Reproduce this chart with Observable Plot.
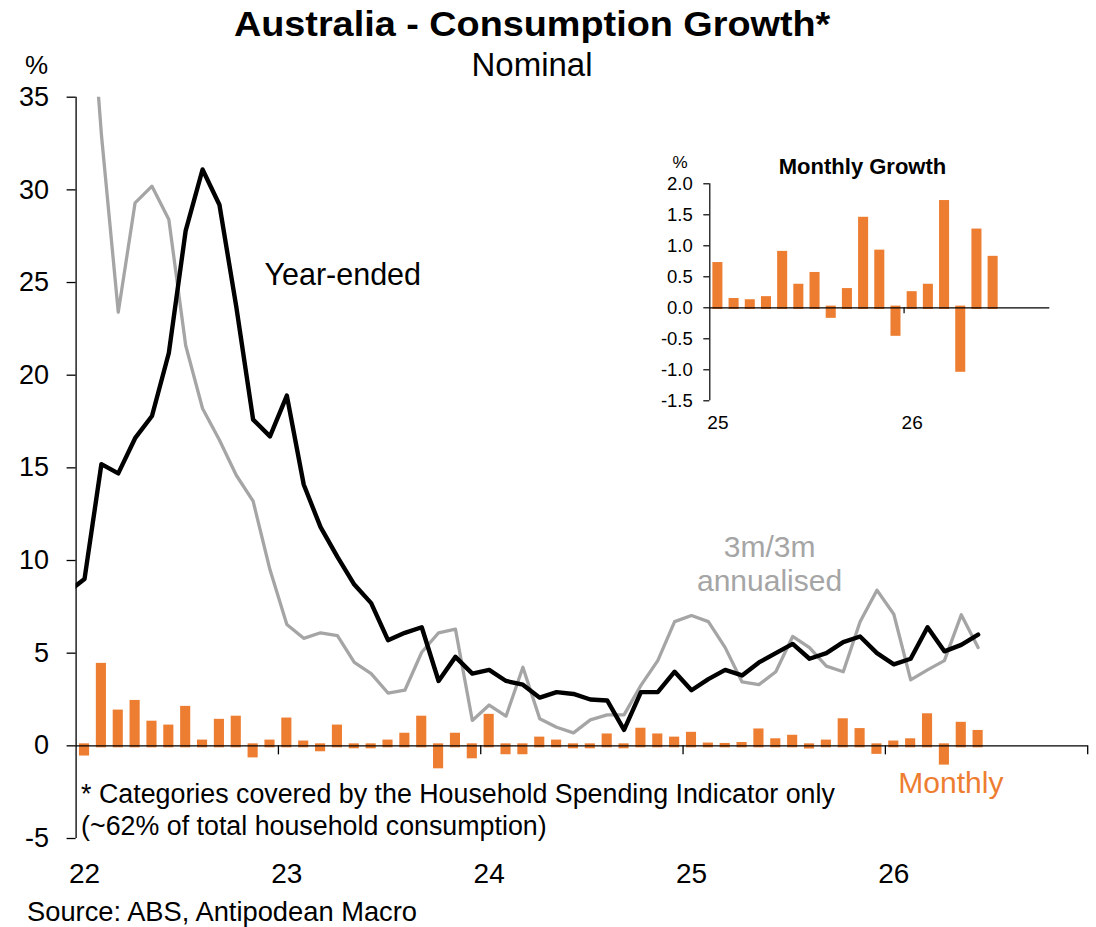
<!DOCTYPE html>
<html>
<head>
<meta charset="utf-8">
<script src="https://cdn.jsdelivr.net/npm/d3@7"></script>
<script src="https://cdn.jsdelivr.net/npm/@observablehq/plot@0.6"></script>
<style>
  body { margin: 0; background: #fff; }
  #wrap { position: relative; width: 1096px; height: 927px; overflow: hidden;
          font-family: "Liberation Sans", Arial, Helvetica, sans-serif; color: #000; }
  #main { position: absolute; left: 0; top: 0; }
  #inset { position: absolute; left: 640px; top: 140px; }
  .t { position: absolute; left: 0; width: 1064px; text-align: center; white-space: nowrap; }
  .t span { display: inline-block; transform-origin: 50% 50%; }
  #title { top: 6.4px; font-size: 35px; line-height: 35px; font-weight: bold; }
  #title span { transform: scaleX(1.08); }
  #subtitle { top: 48px; font-size: 33px; line-height: 33px; }
  #source { position: absolute; left: 27px; top: 897.5px; font-size: 27.3px; line-height: 27px; white-space: nowrap; }
</style>
</head>
<body>
<div id="wrap">
  <div id="main"></div>
  <div id="inset"></div>
  <div id="title" class="t"><span>Australia - Consumption Growth*</span></div>
  <div id="subtitle" class="t"><span>Nominal</span></div>
  <div id="source">Source: ABS, Antipodean Macro</div>
</div>
<script>
// ---------------- data ----------------
const months = [
  "Dec-21",
  "Jan-22","Feb-22","Mar-22","Apr-22","May-22","Jun-22","Jul-22","Aug-22","Sep-22","Oct-22","Nov-22","Dec-22",
  "Jan-23","Feb-23","Mar-23","Apr-23","May-23","Jun-23","Jul-23","Aug-23","Sep-23","Oct-23","Nov-23","Dec-23",
  "Jan-24","Feb-24","Mar-24","Apr-24","May-24","Jun-24","Jul-24","Aug-24","Sep-24","Oct-24","Nov-24","Dec-24",
  "Jan-25","Feb-25","Mar-25","Apr-25","May-25","Jun-25","Jul-25","Aug-25","Sep-25","Oct-25","Nov-25","Dec-25",
  "Jan-26","Feb-26","Mar-26","Apr-26","May-26","Jun-26"
];
// Year-ended growth, %
const yearEnded = [
  8.3,
  9.0, 15.2, 14.7, 16.6, 17.8, 21.2, 27.8, 31.1, 29.2, 23.7, 17.6, 16.7,
  18.9, 14.1, 11.8, 10.2, 8.7, 7.7, 5.7, 6.1, 6.4, 3.5, 4.8, 3.9,
  4.1, 3.5, 3.3, 2.6, 2.9, 2.8, 2.5, 2.45, 0.86, 2.9, 2.9, 4.0,
  3.0, 3.6, 4.1, 3.8, 4.5, 5.0, 5.5, 4.7, 5.0, 5.6, 5.9, 5.0,
  4.4, 4.7, 6.4, 5.1, 5.45, 6.0
];
// 3m/3m annualised growth, %
const threeMonthAnn = [
  null,
  45.0, 33.0, 23.4, 29.3, 30.2, 28.4, 21.6, 18.2, 16.5, 14.6, 13.2, 9.5,
  6.55, 5.8, 6.1, 5.95, 4.5, 3.9, 2.85, 3.0, 5.05, 6.1, 6.3, 1.37,
  2.2, 1.6, 4.24, 1.46, 1.0, 0.7, 1.4, 1.67, 1.67, 3.26, 4.6, 6.7,
  7.03, 6.7, 5.3, 3.45, 3.3, 4.0, 5.9, 5.3, 4.3, 4.0, 6.7, 8.4,
  7.1, 3.56, 4.1, 4.6, 7.07, 5.3
];
// Monthly growth, %
const monthly = [
  null,
  -0.55, 4.45, 1.93, 2.45, 1.33, 1.12, 2.13, 0.31, 1.43, 1.6, -0.65, 0.31,
  1.5, 0.26, -0.32, 1.12, -0.16, -0.16, 0.31, 0.68, 1.6, -1.24, 0.68, -0.7,
  1.7, -0.48, -0.48, 0.47, 0.31, -0.16, -0.16, 0.64, -0.16, 0.95, 0.64, 0.47,
  0.73, 0.15, 0.13, 0.18, 0.91, 0.38, 0.57, -0.17, 0.31, 1.46, 0.93, -0.46,
  0.26, 0.38, 1.73, -1.04, 1.27, 0.83
];
const yearLabels = ["22", "23", "24", "25", "26"];
const yTicks = [-5, 0, 5, 10, 15, 20, 25, 30, 35];
const insetYTicks = [-1.5, -1.0, -0.5, 0.0, 0.5, 1.0, 1.5, 2.0];
const insetYearLabels = ["25", "26"];
const insetStart = "Jan-25";
const insetMonths = 21; // Jan-25 .. Sep-26 on the inset axis
const mainMonths = 60;  // Jan-22 .. Dec-26 on the main axis

// ---------------- styling ----------------
const FONT = '"Liberation Sans", Arial, Helvetica, sans-serif';
const ORANGE = "#ED7D31";
const GRAY = "#A5A5A5";

// month index i: 0 = Jan-22
const rows = months.map((m, k) => ({
  month: m, i: k - 1,
  yearEnded: yearEnded[k], threeM: threeMonthAnn[k], monthly: monthly[k]
}));
const janRows = rows.filter(d => d.month.startsWith("Jan"));
const yearTicks = janRows.map((d, j) => ({i: d.i, label: yearLabels[j]}));
const boundaries = janRows.filter(d => d.i > 0).map(d => d.i).concat([mainMonths]);
const bars = rows.filter(d => d.monthly != null);

const main = Plot.plot({
  width: 1096, height: 898,
  marginLeft: 75.6, marginRight: 8.8, marginTop: 96.7, marginBottom: 60,
  style: {fontFamily: FONT, background: "none", color: "#000", overflow: "visible"},
  x: {type: "linear", domain: [0, mainMonths], axis: null},
  y: {type: "linear", domain: [-5, 35], axis: null},
  marks: [
    Plot.rectY(bars.filter(d => d.monthly >= 0), {x1: d => d.i + 0.2, x2: d => d.i + 0.8, y1: 0, y2: "monthly", fill: ORANGE, insetBottom: -2}),
    Plot.rectY(bars.filter(d => d.monthly < 0), {x1: d => d.i + 0.2, x2: d => d.i + 0.8, y1: 0, y2: "monthly", fill: ORANGE, insetTop: -2}),
    Plot.line(rows.filter(d => d.threeM != null), {x: d => d.i + 0.5, y: "threeM", stroke: GRAY, strokeWidth: 3.3, strokeLinejoin: "round", clip: true}),
    Plot.line(rows, {x: d => d.i + 0.5, y: "yearEnded", stroke: "#000", strokeWidth: 4.4, strokeLinejoin: "round", clip: true}),
    Plot.ruleY([0], {stroke: "#000", strokeWidth: 1.3}),
    Plot.ruleX([0], {stroke: "#000", strokeWidth: 1.3}),
    Plot.ruleX(boundaries, {x: d => d, y1: 0, y2: 0, insetBottom: -9, stroke: "#000", strokeWidth: 1.3}),
    Plot.axisY({ticks: yTicks, tickSize: 9, tickPadding: 18, fontSize: 27, tickFormat: d => String(d), label: null, strokeWidth: 1.3}),
    Plot.text(yearTicks, {x: d => d.i + 0.5, text: "label", frameAnchor: "bottom", dy: 36, fontSize: 28, lineAnchor: "middle"}),
    Plot.text(["%"], {frameAnchor: "top-left", dx: -28, dy: -32, textAnchor: "end", lineAnchor: "middle", fontSize: 26}),
    Plot.text(["Year-ended"], {x: 11.17, y: 24.84, textAnchor: "start", lineAnchor: "bottom", fontSize: 30.5}),
    Plot.text(["3m/3m\nannualised"], {x: 41.13, y: 8.38, textAnchor: "middle", lineAnchor: "bottom", lineHeight: 1.133, fontSize: 30, fill: GRAY}),
    Plot.text(["Monthly"], {x: 48.77, y: -2.57, textAnchor: "start", lineAnchor: "bottom", fontSize: 30, fill: ORANGE}),
    Plot.text(["* Categories covered by the Household Spending Indicator only\n(~62% of total household consumption)"],
      {frameAnchor: "bottom-left", dx: 5, dy: -4, textAnchor: "start", lineAnchor: "bottom", lineHeight: 1.17, fontSize: 26.8})
  ]
});
document.getElementById("main").appendChild(main);

// ---------------- inset ----------------
const k0 = months.indexOf(insetStart);
const insetRows = rows.slice(k0).map((d, k) => ({...d, k}));
const insetJan = insetRows.filter(d => d.month.startsWith("Jan"));
const insetYears = insetJan.map((d, j) => ({k: d.k, label: insetYearLabels[j]}));
const insetBoundaries = insetJan.filter(d => d.k > 0).map(d => d.k);

const inset = Plot.plot({
  width: 420, height: 300,
  marginLeft: 69.3, marginRight: 10.7, marginTop: 43.3, marginBottom: 39.7,
  style: {fontFamily: FONT, background: "none", color: "#000", overflow: "visible"},
  x: {type: "linear", domain: [0, insetMonths], axis: null},
  y: {type: "linear", domain: [-1.5, 2.0], axis: null},
  marks: [
    Plot.rectY(insetRows.filter(d => d.monthly >= 0), {x1: d => d.k + 0.19, x2: d => d.k + 0.81, y1: 0, y2: "monthly", fill: ORANGE, insetBottom: -1.7}),
    Plot.rectY(insetRows.filter(d => d.monthly < 0), {x1: d => d.k + 0.19, x2: d => d.k + 0.81, y1: 0, y2: "monthly", fill: ORANGE, insetTop: -1.7}),
    Plot.ruleY([0], {stroke: "#000", strokeWidth: 1.2}),
    Plot.ruleX([0], {stroke: "#000", strokeWidth: 1.2}),
    Plot.ruleX(insetBoundaries, {x: d => d, y1: 0, y2: 0, insetBottom: -6, stroke: "#000", strokeWidth: 1.2}),
    Plot.axisY({ticks: insetYTicks, tickSize: 6, tickPadding: 11, fontSize: 18.5, tickFormat: d => d.toFixed(1), label: null, strokeWidth: 1.2}),
    Plot.text(insetYears, {x: d => d.k + 0.5, text: "label", frameAnchor: "bottom", dy: 21.7, lineAnchor: "middle", fontSize: 19}),
    Plot.text(["%"], {frameAnchor: "top-left", dx: -29.8, dy: -20.8, textAnchor: "middle", lineAnchor: "middle", fontSize: 17}),
    Plot.text(["Monthly Growth"], {frameAnchor: "top-left", dx: 152.7, dy: -17.3, textAnchor: "middle", lineAnchor: "middle", fontSize: 22, fontWeight: "bold"})
  ]
});
document.getElementById("inset").appendChild(inset);
</script>
</body>
</html>
